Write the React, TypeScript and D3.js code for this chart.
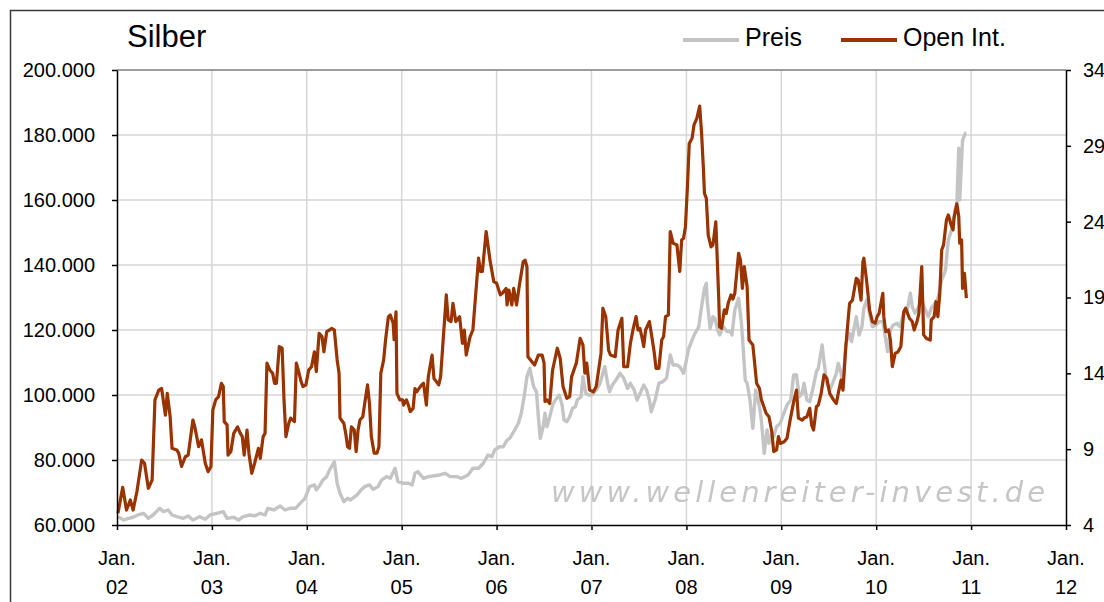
import React, { useEffect, useRef } from 'react';
import * as d3 from 'd3';

// Zeitachse in Jahren (Dezimaljahr), Open Interest in Tsd. Kontrakten, Preis in USD
const jahre = d3.range(2002, 2013);
const linkeTicks = [60, 80, 100, 120, 140, 160, 180, 200];
const rechteTicks = [4, 9, 14, 19, 24, 29, 34];
const legende = ['Preis', 'Open Int.'];

const openInt: [number, number][] = [
  [2002.01, 63.6], [2002.06, 71.6], [2002.10, 64.6], [2002.14, 67.7], [2002.17, 64.6], [2002.21, 70.3],
  [2002.26, 80.0], [2002.29, 79.0], [2002.33, 71.3], [2002.37, 73.8], [2002.40, 98.5], [2002.44, 101.5],
  [2002.47, 102.0], [2002.51, 93.8], [2002.53, 100.5], [2002.56, 93.3], [2002.58, 83.6], [2002.63, 83.1],
  [2002.65, 82.1], [2002.68, 78.0], [2002.72, 81.0], [2002.75, 81.5], [2002.80, 92.3], [2002.82, 90.2],
  [2002.86, 84.1], [2002.89, 86.2], [2002.93, 79.0], [2002.96, 76.4], [2002.99, 78.0], [2003.01, 95.4],
  [2003.04, 98.5], [2003.07, 99.5], [2003.10, 103.6], [2003.12, 102.6], [2003.13, 91.8], [2003.16, 90.8],
  [2003.17, 81.5], [2003.20, 82.6], [2003.23, 88.2], [2003.27, 90.2], [2003.30, 88.2], [2003.32, 87.2],
  [2003.34, 81.5], [2003.37, 89.2], [2003.39, 82.1], [2003.42, 75.9], [2003.45, 79.0], [2003.49, 83.6],
  [2003.51, 80.5], [2003.54, 87.2], [2003.56, 88.2], [2003.58, 109.8], [2003.61, 107.7], [2003.64, 106.7],
  [2003.66, 103.6], [2003.68, 103.6], [2003.71, 114.9], [2003.74, 114.4], [2003.76, 98.5], [2003.78, 87.2],
  [2003.81, 91.3], [2003.83, 92.9], [2003.87, 91.8], [2003.89, 109.8], [2003.91, 107.7], [2003.94, 104.1],
  [2003.96, 102.6], [2003.99, 103.1], [2004.02, 107.7], [2004.05, 108.7], [2004.08, 113.3], [2004.10, 107.2],
  [2004.13, 119.0], [2004.16, 118.0], [2004.18, 113.3], [2004.21, 119.5], [2004.24, 120.0], [2004.26, 120.5],
  [2004.29, 120.0], [2004.32, 110.8], [2004.34, 106.7], [2004.35, 92.9], [2004.39, 91.3], [2004.41, 88.2],
  [2004.43, 84.1], [2004.45, 83.6], [2004.47, 90.2], [2004.50, 89.2], [2004.52, 82.6], [2004.54, 89.2],
  [2004.56, 92.3], [2004.59, 93.3], [2004.61, 97.4], [2004.64, 103.1], [2004.66, 97.4], [2004.68, 87.2],
  [2004.71, 82.1], [2004.74, 82.1], [2004.76, 84.1], [2004.78, 106.7], [2004.81, 110.8], [2004.83, 117.0],
  [2004.86, 124.1], [2004.88, 124.6], [2004.91, 122.1], [2004.92, 117.0], [2004.94, 125.6], [2004.95, 100.5],
  [2004.98, 98.5], [2005.01, 98.5], [2005.02, 96.9], [2005.05, 98.5], [2005.07, 96.9], [2005.09, 94.9],
  [2005.12, 95.9], [2005.14, 102.0], [2005.16, 101.0], [2005.17, 101.5], [2005.21, 103.1], [2005.23, 103.6],
  [2005.26, 96.9], [2005.28, 105.6], [2005.32, 112.3], [2005.34, 105.1], [2005.39, 103.1], [2005.41, 105.6],
  [2005.47, 130.8], [2005.49, 123.1], [2005.52, 122.6], [2005.54, 128.2], [2005.57, 122.6], [2005.61, 124.1],
  [2005.64, 115.9], [2005.66, 120.0], [2005.68, 112.3], [2005.72, 117.9], [2005.75, 120.0], [2005.81, 142.1],
  [2005.83, 138.0], [2005.85, 138.0], [2005.89, 150.3], [2005.93, 141.5], [2005.97, 134.9], [2006.00, 134.4],
  [2006.04, 130.8], [2006.06, 131.3], [2006.10, 132.8], [2006.11, 127.7], [2006.13, 132.3], [2006.16, 127.7],
  [2006.18, 132.8], [2006.21, 127.7], [2006.24, 133.8], [2006.28, 141.0], [2006.30, 141.5], [2006.32, 139.5],
  [2006.33, 111.8], [2006.37, 110.3], [2006.40, 109.2], [2006.44, 112.3], [2006.48, 112.3], [2006.50, 109.8],
  [2006.51, 98.0], [2006.53, 98.5], [2006.56, 97.4], [2006.59, 107.7], [2006.64, 114.4], [2006.67, 111.3],
  [2006.70, 102.6], [2006.74, 99.0], [2006.77, 99.5], [2006.79, 105.6], [2006.84, 109.8], [2006.88, 117.4],
  [2006.91, 115.4], [2006.93, 106.7], [2006.95, 109.8], [2006.98, 101.5], [2007.02, 101.0], [2007.05, 102.6],
  [2007.07, 106.7], [2007.10, 112.8], [2007.12, 126.7], [2007.15, 124.1], [2007.18, 113.8], [2007.20, 112.3],
  [2007.25, 111.8], [2007.28, 120.0], [2007.32, 123.6], [2007.34, 108.7], [2007.38, 108.7], [2007.41, 115.9],
  [2007.44, 120.5], [2007.47, 124.1], [2007.49, 120.0], [2007.51, 120.5], [2007.53, 118.0], [2007.55, 114.9],
  [2007.57, 120.0], [2007.61, 122.6], [2007.63, 119.0], [2007.66, 113.3], [2007.68, 108.2], [2007.71, 108.2],
  [2007.74, 116.9], [2007.76, 118.0], [2007.78, 124.1], [2007.81, 124.6], [2007.83, 150.3], [2007.86, 146.7],
  [2007.90, 146.2], [2007.93, 138.0], [2007.95, 147.7], [2007.97, 148.2], [2007.99, 151.8], [2008.01, 163.6],
  [2008.03, 177.4], [2008.06, 179.0], [2008.08, 183.1], [2008.11, 185.1], [2008.14, 188.9], [2008.16, 180.5],
  [2008.18, 169.2], [2008.19, 162.1], [2008.21, 160.5], [2008.23, 149.2], [2008.26, 145.6], [2008.28, 146.2],
  [2008.31, 153.3], [2008.34, 130.3], [2008.35, 121.0], [2008.37, 120.5], [2008.40, 126.2], [2008.42, 125.1],
  [2008.44, 128.2], [2008.47, 130.8], [2008.49, 129.5], [2008.51, 131.3], [2008.55, 143.6], [2008.57, 141.5],
  [2008.59, 132.8], [2008.61, 139.5], [2008.64, 133.3], [2008.66, 116.9], [2008.70, 115.4], [2008.74, 103.6],
  [2008.77, 102.0], [2008.79, 98.5], [2008.81, 96.9], [2008.84, 94.4], [2008.87, 93.3], [2008.90, 88.7],
  [2008.92, 82.6], [2008.95, 83.1], [2008.97, 87.2], [2008.99, 85.1], [2009.03, 85.6], [2009.06, 86.7],
  [2009.09, 91.8], [2009.13, 97.9], [2009.16, 101.5], [2009.18, 92.9], [2009.22, 92.3], [2009.24, 92.9],
  [2009.27, 93.3], [2009.30, 95.9], [2009.32, 90.8], [2009.34, 89.2], [2009.37, 96.4], [2009.39, 96.9],
  [2009.42, 100.5], [2009.45, 106.2], [2009.48, 105.1], [2009.51, 100.5], [2009.55, 98.5], [2009.58, 97.4],
  [2009.60, 100.5], [2009.63, 104.6], [2009.65, 101.5], [2009.68, 114.9], [2009.71, 125.1], [2009.72, 128.2],
  [2009.75, 129.2], [2009.79, 135.9], [2009.81, 135.4], [2009.84, 129.2], [2009.86, 141.0], [2009.87, 142.1],
  [2009.90, 134.9], [2009.93, 126.2], [2009.96, 122.6], [2009.99, 122.1], [2010.01, 124.1], [2010.03, 125.1],
  [2010.07, 131.3], [2010.08, 124.1], [2010.10, 119.5], [2010.13, 120.0], [2010.15, 116.9], [2010.17, 108.7],
  [2010.20, 112.8], [2010.23, 113.3], [2010.26, 114.9], [2010.29, 125.6], [2010.31, 126.7], [2010.35, 123.6],
  [2010.38, 122.6], [2010.40, 120.0], [2010.43, 122.6], [2010.45, 125.1], [2010.48, 139.5], [2010.50, 118.5],
  [2010.53, 117.4], [2010.57, 116.9], [2010.58, 123.1], [2010.61, 124.1], [2010.63, 128.7], [2010.65, 124.1],
  [2010.67, 131.3], [2010.69, 144.6], [2010.71, 146.2], [2010.74, 153.8], [2010.76, 155.4], [2010.79, 152.3],
  [2010.81, 150.8], [2010.82, 154.4], [2010.85, 158.8], [2010.87, 154.9], [2010.88, 146.7], [2010.90, 147.7],
  [2010.91, 132.8], [2010.93, 137.4], [2010.95, 129.8],
];

const preis: [number, number][] = [
  [2002.01, 4.55], [2002.07, 4.33], [2002.12, 4.44], [2002.17, 4.51], [2002.22, 4.66], [2002.28, 4.77],
  [2002.33, 4.44], [2002.38, 4.66], [2002.45, 5.10], [2002.49, 4.88], [2002.54, 4.99], [2002.58, 4.66],
  [2002.63, 4.55], [2002.70, 4.44], [2002.75, 4.60], [2002.80, 4.33], [2002.87, 4.55], [2002.93, 4.38],
  [2002.98, 4.66], [2003.05, 4.77], [2003.12, 4.88], [2003.16, 4.44], [2003.23, 4.51], [2003.28, 4.33],
  [2003.33, 4.55], [2003.40, 4.66], [2003.45, 4.60], [2003.51, 4.77], [2003.56, 4.66], [2003.59, 5.10],
  [2003.65, 4.99], [2003.72, 5.25], [2003.77, 4.99], [2003.82, 5.10], [2003.88, 5.10], [2003.93, 5.43],
  [2003.98, 5.76], [2004.03, 6.53], [2004.08, 6.64], [2004.10, 6.31], [2004.14, 6.64], [2004.17, 6.97],
  [2004.21, 7.19], [2004.24, 7.63], [2004.29, 8.17], [2004.32, 6.75], [2004.35, 6.09], [2004.39, 5.54],
  [2004.43, 5.76], [2004.46, 5.65], [2004.53, 5.98], [2004.57, 6.31], [2004.61, 6.53], [2004.66, 6.64],
  [2004.70, 6.35], [2004.75, 6.53], [2004.79, 6.97], [2004.84, 7.19], [2004.88, 7.08], [2004.93, 7.74],
  [2004.96, 6.86], [2005.02, 6.75], [2005.07, 6.75], [2005.11, 6.64], [2005.14, 7.41], [2005.17, 7.52],
  [2005.23, 7.08], [2005.28, 7.19], [2005.40, 7.30], [2005.46, 7.41], [2005.51, 7.19], [2005.58, 7.19],
  [2005.63, 7.08], [2005.70, 7.30], [2005.75, 7.74], [2005.81, 7.74], [2005.86, 8.07], [2005.91, 8.62],
  [2005.95, 8.50], [2005.98, 8.95], [2006.03, 9.16], [2006.07, 9.16], [2006.11, 9.60], [2006.14, 9.72],
  [2006.18, 10.15], [2006.23, 10.71], [2006.26, 11.37], [2006.29, 12.46], [2006.32, 13.78], [2006.35, 14.33],
  [2006.39, 13.12], [2006.42, 12.79], [2006.44, 11.14], [2006.46, 9.72], [2006.49, 10.48], [2006.51, 11.37],
  [2006.53, 10.48], [2006.56, 11.14], [2006.59, 11.91], [2006.62, 12.24], [2006.66, 12.57], [2006.69, 11.91],
  [2006.71, 10.92], [2006.74, 10.81], [2006.77, 11.14], [2006.80, 11.70], [2006.83, 11.80], [2006.85, 12.24],
  [2006.89, 12.46], [2006.91, 13.78], [2006.94, 12.68], [2006.97, 12.57], [2007.00, 12.57], [2007.05, 12.90],
  [2007.09, 13.34], [2007.12, 14.00], [2007.14, 14.44], [2007.17, 13.34], [2007.19, 12.79], [2007.22, 13.23],
  [2007.27, 13.67], [2007.30, 14.00], [2007.34, 13.67], [2007.38, 13.01], [2007.41, 13.34], [2007.45, 12.90],
  [2007.48, 12.24], [2007.52, 12.79], [2007.55, 13.23], [2007.58, 12.90], [2007.61, 12.24], [2007.63, 11.47],
  [2007.67, 12.24], [2007.71, 13.34], [2007.75, 13.45], [2007.79, 13.67], [2007.83, 15.21], [2007.86, 14.55],
  [2007.90, 14.55], [2007.93, 14.44], [2007.97, 14.00], [2008.00, 14.88], [2008.02, 15.54], [2008.06, 16.20],
  [2008.09, 16.64], [2008.13, 17.07], [2008.16, 18.39], [2008.19, 19.61], [2008.21, 19.94], [2008.22, 18.72],
  [2008.25, 16.97], [2008.28, 17.73], [2008.30, 17.63], [2008.33, 16.86], [2008.35, 16.53], [2008.39, 17.07],
  [2008.43, 16.75], [2008.46, 16.80], [2008.48, 16.53], [2008.51, 18.18], [2008.55, 18.95], [2008.58, 17.30],
  [2008.60, 15.54], [2008.62, 13.56], [2008.64, 13.34], [2008.67, 12.24], [2008.70, 10.37], [2008.73, 12.90],
  [2008.77, 11.80], [2008.79, 10.92], [2008.82, 8.73], [2008.85, 10.26], [2008.87, 9.39], [2008.90, 10.05],
  [2008.92, 9.83], [2008.95, 10.48], [2008.99, 10.71], [2009.02, 11.25], [2009.06, 11.91], [2009.10, 12.24],
  [2009.13, 13.89], [2009.16, 13.89], [2009.19, 12.46], [2009.22, 12.68], [2009.24, 13.34], [2009.27, 12.24],
  [2009.30, 12.13], [2009.33, 12.90], [2009.37, 14.11], [2009.39, 14.33], [2009.43, 15.87], [2009.45, 14.77],
  [2009.48, 13.34], [2009.51, 12.90], [2009.54, 13.34], [2009.58, 14.00], [2009.60, 14.66], [2009.63, 14.00],
  [2009.65, 13.34], [2009.68, 15.98], [2009.72, 16.64], [2009.74, 16.09], [2009.77, 17.07], [2009.79, 17.73],
  [2009.82, 16.53], [2009.85, 17.07], [2009.87, 18.29], [2009.90, 18.84], [2009.93, 17.96], [2009.96, 17.07],
  [2010.00, 17.19], [2010.03, 17.41], [2010.07, 17.41], [2010.09, 16.64], [2010.12, 15.43], [2010.15, 16.86],
  [2010.18, 17.19], [2010.22, 17.30], [2010.25, 17.07], [2010.29, 17.96], [2010.32, 17.96], [2010.36, 19.28],
  [2010.38, 18.39], [2010.41, 17.96], [2010.44, 18.29], [2010.48, 18.84], [2010.51, 18.29], [2010.55, 17.73],
  [2010.58, 18.29], [2010.62, 18.62], [2010.65, 18.95], [2010.69, 20.15], [2010.73, 20.81], [2010.76, 22.79],
  [2010.80, 23.56], [2010.83, 24.77], [2010.85, 25.21], [2010.87, 28.84], [2010.88, 25.43], [2010.91, 29.38],
  [2010.94, 29.83], [2010.95, 29.83],
];

const deDE = d3.formatLocale({ decimal: ',', thousands: '.', grouping: [3], currency: ['', ' €'] });
const fmtTsd = deDE.format(',.0f');

const FONT = '"Liberation Sans", Arial, sans-serif';
const GRAU = '#c4c4c4';
const BRAUN = '#993300';

export default function App() {
  const ref = useRef<SVGSVGElement>(null);

  useEffect(() => {
    const svg = d3.select(ref.current);
    svg.selectAll('*').remove();

    const plot = { left: 117, right: 1066, top: 70, bottom: 525 };
    const x = d3.scaleLinear().domain([2002, 2012]).range([plot.left, plot.right]);
    const yL = d3.scaleLinear().domain([60, 200]).range([plot.bottom, plot.top]);
    const yR = d3.scaleLinear().domain([4, 34]).range([plot.bottom, plot.top]);

    svg.append('rect').attr('width', 1104).attr('height', 602).attr('fill', '#fff');

    // Rahmen
    svg.append('rect')
      .attr('x', 10.5).attr('y', 10.5).attr('width', 1200).attr('height', 700)
      .attr('fill', 'none').attr('stroke', '#3a3a3a').attr('stroke-width', 1.5);

    // Gitter
    svg.append('g').selectAll('line').data(linkeTicks.slice(1)).join('line')
      .attr('x1', plot.left).attr('x2', plot.right)
      .attr('y1', d => yL(d)).attr('y2', d => yL(d))
      .attr('stroke', '#d6d6d6').attr('stroke-width', 1.5);
    svg.append('g').selectAll('line').data(jahre.slice(1, -1)).join('line')
      .attr('x1', d => x(d)).attr('x2', d => x(d))
      .attr('y1', plot.top).attr('y2', plot.bottom)
      .attr('stroke', '#d6d6d6').attr('stroke-width', 1.5);

    // Wasserzeichen
    const defs = svg.append('defs');
    defs.append('filter').attr('id', 'weich')
      .append('feGaussianBlur').attr('stdDeviation', 0.6);
    svg.append('text')
      .attr('x', 551).attr('y', 502)
      .attr('font-family', '"DejaVu Sans", Verdana, sans-serif').attr('font-style', 'italic').attr('font-size', 29)
      .attr('fill', '#c6c6c6').attr('filter', 'url(#weich)')
      .attr('textLength', 494).attr('lengthAdjust', 'spacing')
      .text('www.wellenreiter-invest.de');

    // Rand oben
    svg.append('line')
      .attr('x1', plot.left).attr('x2', plot.right).attr('y1', plot.top).attr('y2', plot.top)
      .attr('stroke', '#5a5a5a').attr('stroke-width', 1);

    // Linien
    const linieP = d3.line<[number, number]>().x(d => x(d[0])).y(d => yR(d[1]));
    const linieOI = d3.line<[number, number]>().x(d => x(d[0])).y(d => yL(d[1]));
    svg.append('path').datum(preis).attr('d', linieP)
      .attr('fill', 'none').attr('stroke', GRAU).attr('stroke-width', 3.4)
      .attr('stroke-linejoin', 'round');
    svg.append('path').datum(openInt).attr('d', linieOI)
      .attr('fill', 'none').attr('stroke', BRAUN).attr('stroke-width', 3.2)
      .attr('stroke-linejoin', 'round');

    // Achsen
    const links = svg.append('g').attr('transform', `translate(${plot.left},0)`)
      .call(d3.axisLeft(yL).tickValues(linkeTicks).tickSize(5).tickSizeOuter(0).tickPadding(17)
        .tickFormat(d => fmtTsd((d as number) * 1000)));
    const rechts = svg.append('g').attr('transform', `translate(${plot.right},0)`)
      .call(d3.axisRight(yR).tickValues(rechteTicks).tickSize(5).tickSizeOuter(0).tickPadding(12));
    const unten = svg.append('g').attr('transform', `translate(0,${plot.bottom})`)
      .call(d3.axisBottom(x).tickValues(jahre).tickSize(5).tickSizeOuter(0).tickFormat(() => ''));

    [links, rechts, unten].forEach(g => {
      g.select('.domain').attr('stroke', '#000').attr('stroke-width', 1.5);
      g.selectAll('.tick line').attr('stroke', '#000').attr('stroke-width', 1.5);
      g.selectAll('.tick text').attr('font-family', FONT).attr('font-size', 20).attr('fill', '#000');
    });

    const jl = svg.append('g').attr('font-family', FONT).attr('font-size', 20)
      .attr('text-anchor', 'middle').attr('fill', '#000');
    jl.selectAll('text.jan').data(jahre).join('text').attr('class', 'jan')
      .attr('x', d => x(d)).attr('y', 565).text('Jan.');
    jl.selectAll('text.jahr').data(jahre).join('text').attr('class', 'jahr')
      .attr('x', d => x(d)).attr('y', 594).text(d => String(d % 100).padStart(2, '0'));

    // Titel
    svg.append('text').attr('x', 127).attr('y', 46.5)
      .attr('font-family', FONT).attr('font-size', 31).attr('fill', '#000')
      .text('Silber');

    // Legende
    const leg = svg.append('g').attr('font-family', FONT).attr('font-size', 25);
    const legPos = [683, 841];
    const legFarben = [GRAU, BRAUN];
    legende.forEach((name, i) => {
      leg.append('line')
        .attr('x1', legPos[i]).attr('x2', legPos[i] + 56).attr('y1', 40).attr('y2', 40)
        .attr('stroke', legFarben[i]).attr('stroke-width', 4);
      leg.append('text').attr('x', legPos[i] + 62).attr('y', 45.5).attr('fill', '#000').text(name);
    });
  }, []);

  return (
    <svg
      ref={ref}
      width={1104}
      height={602}
      style={{ position: 'absolute', left: 0, top: 0, display: 'block' }}
    />
  );
}
